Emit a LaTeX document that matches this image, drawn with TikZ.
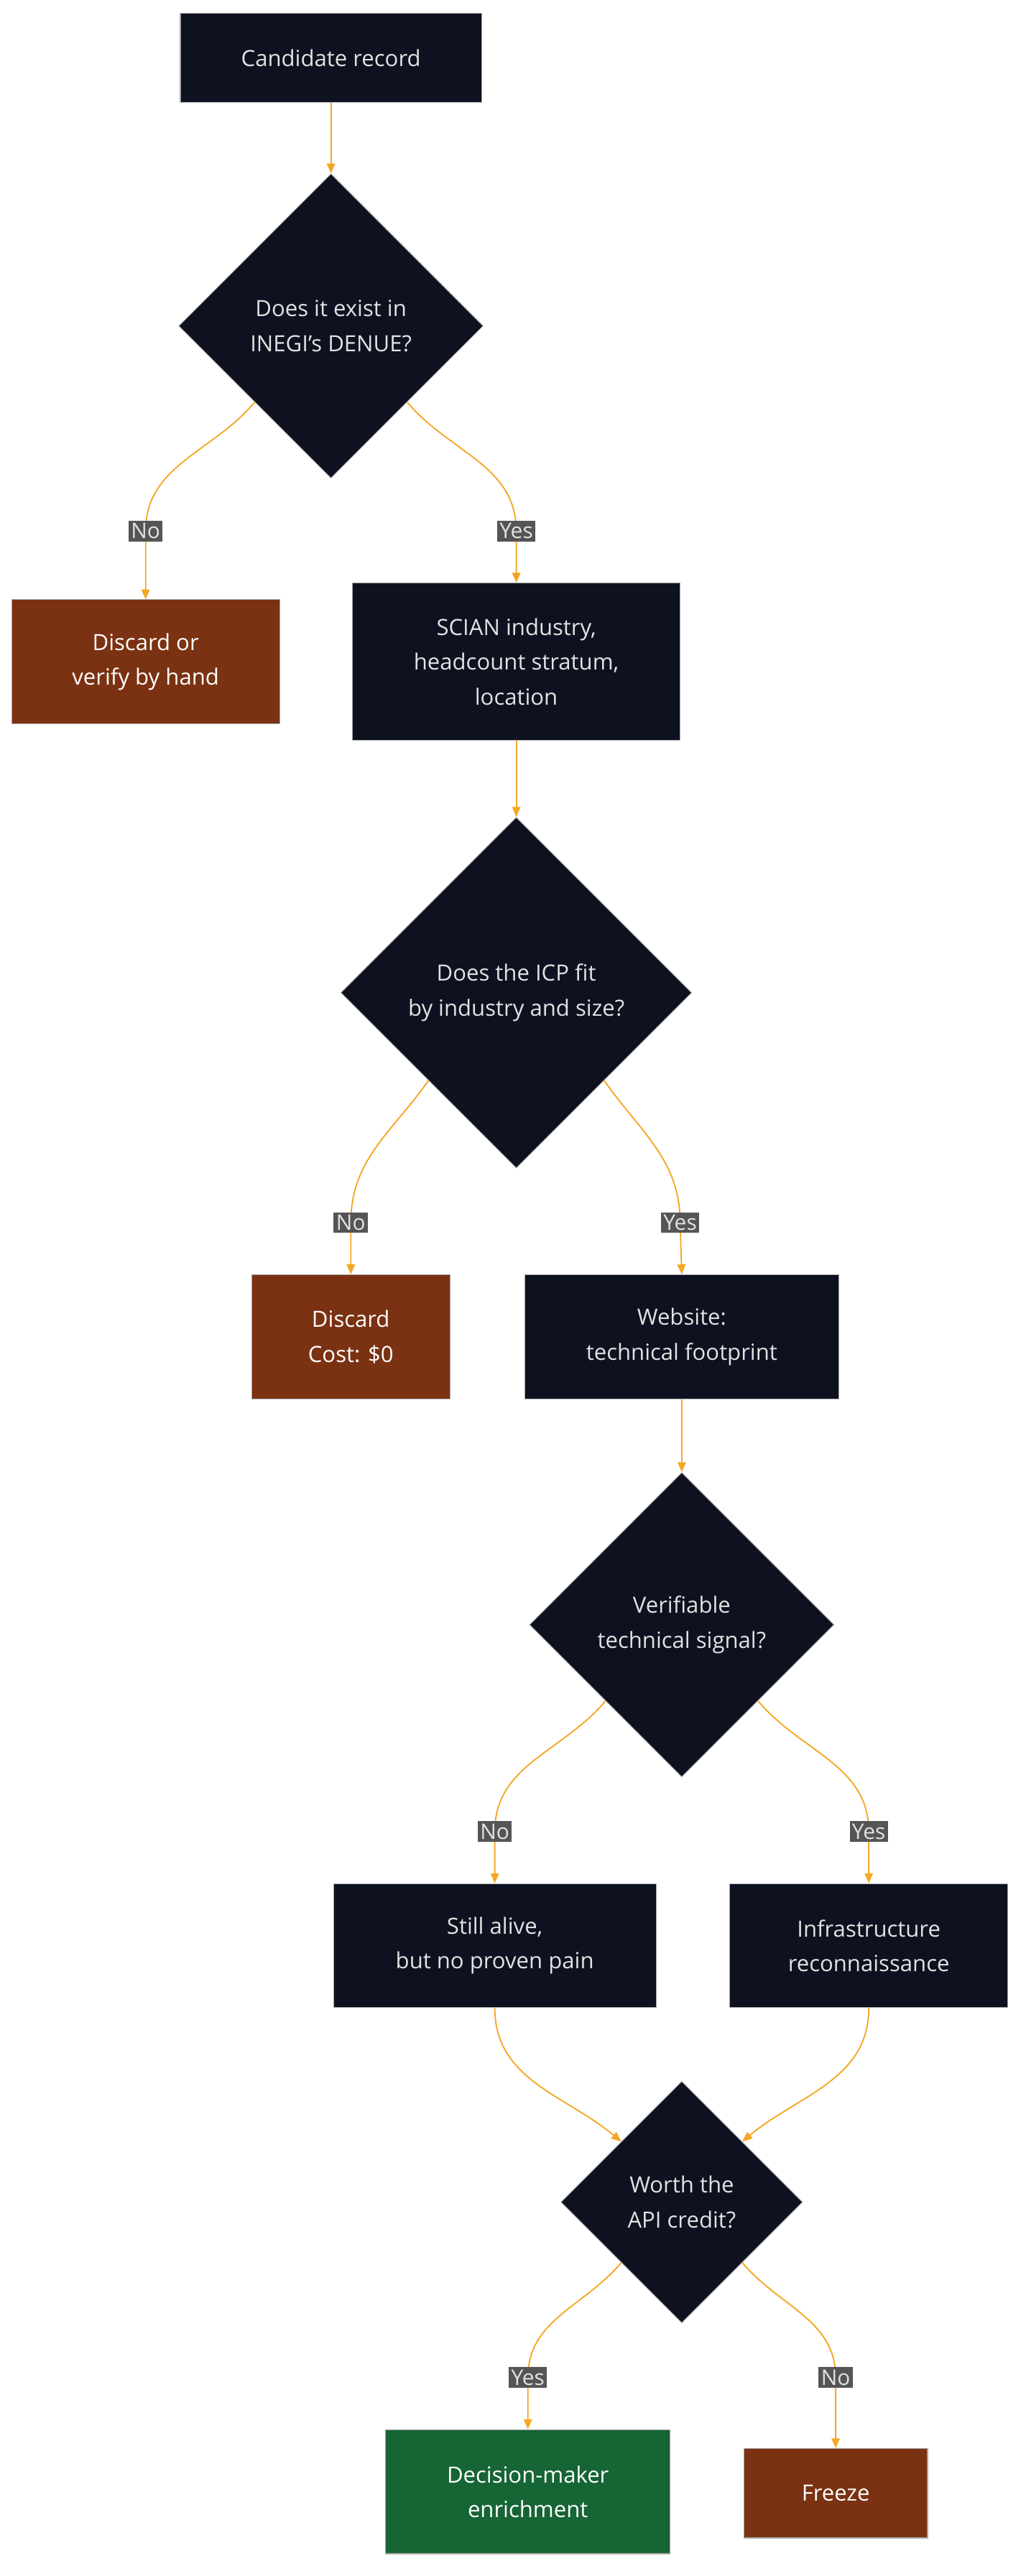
\documentclass[tikz,border=0pt]{standalone}
\usepackage{fontspec}
\setmainfont{Open Sans}
\usetikzlibrary{shapes.geometric,arrows.meta}
\definecolor{dk}{HTML}{0E111F}
\definecolor{br}{HTML}{7A3212}
\definecolor{gr}{HTML}{166534}
\definecolor{ed}{HTML}{F5A623}
\definecolor{tx}{HTML}{E2E2E2}
\definecolor{lb}{HTML}{555555}
\begin{document}
\begin{tikzpicture}[x=1pt,y=-1pt,
  font=\fontsize{13.5}{21}\selectfont,
  box/.style={draw=gray!70,line width=0.5pt,fill=dk,text=tx,align=center,inner sep=0,anchor=center},
  dia/.style={diamond,draw=gray!70,fill=dk,text=tx,align=center,inner sep=0},
  lab/.style={fill=lb,text=tx,inner sep=1.5pt,font=\fontsize{13}{15}\selectfont},
  ar/.style={draw=ed,line width=0.8pt,-{Triangle[length=6pt,width=5pt]}}]
\useasboundingbox (0,0) rectangle (620,1557);
\fill[white] (0,0) rectangle (620,1557);
\node[box,minimum width=182,minimum height=54] (c) at (200,35) {Candidate record};
\node[dia,minimum width=184,minimum height=184] (d1) at (200,197) {Does it exist in\\INEGI's DENUE?};
\node[box,fill=br,text=white,minimum width=162,minimum height=75] (n1) at (88,400) {Discard or\\verify by hand};
\node[box,minimum width=198,minimum height=95] (s) at (312,400) {SCIAN industry,\\headcount stratum,\\location};
\node[dia,minimum width=212,minimum height=212] (d2) at (312,600) {Does the ICP fit\\by industry and size?};
\node[box,fill=br,text=white,minimum width=120,minimum height=75] (n2) at (212,808) {Discard\\Cost: \$0};
\node[box,minimum width=190,minimum height=75] (w) at (412,808) {Website:\\technical footprint};
\node[dia,minimum width=184,minimum height=184] (d3) at (412,982) {Verifiable\\technical signal?};
\node[box,minimum width=195,minimum height=75] (sa) at (299,1176) {Still alive,\\but no proven pain};
\node[box,minimum width=168,minimum height=75] (inf) at (525,1176) {Infrastructure\\reconnaissance};
\node[dia,minimum width=146,minimum height=146] (d4) at (412,1331) {Worth the\\API credit?};
\node[box,fill=gr,text=white,minimum width=172,minimum height=75] (dm) at (319,1506) {Decision-maker\\enrichment};
\node[box,fill=br,text=white,minimum width=111,minimum height=54] (fr) at (505,1507) {Freeze};
\coordinate (l1) at (88,321); \coordinate (l2) at (312,321);
\coordinate (l3) at (212,739); \coordinate (l4) at (411,739);
\coordinate (l5) at (299,1107); \coordinate (l6) at (525,1107);
\coordinate (l7) at (319,1437); \coordinate (l8) at (505,1437);
\draw[ar] (c) -- (d1);
\draw[ar] (d1.225) to[out=-130,in=90] (l1) to[out=-90,in=90] (n1.north);
\draw[ar] (d1.315) to[out=-50,in=90] (l2) -- (s.north);
\draw[ar] (s) -- (d2);
\draw[ar] (d2.225) to[out=-125,in=90] (l3) -- (n2.north);
\draw[ar] (d2.315) to[out=-55,in=90] (l4) -- (w.north);
\draw[ar] (w) -- (d3);
\draw[ar] (d3.225) to[out=-130,in=90] (l5) -- (sa.north);
\draw[ar] (d3.315) to[out=-50,in=90] (l6) -- (inf.north);
\draw[ar] (sa.south) to[out=-90,in=140] (d4.135);
\draw[ar] (inf.south) to[out=-90,in=40] (d4.45);
\draw[ar] (d4.225) to[out=-130,in=90] (l7) -- (dm.north);
\draw[ar] (d4.315) to[out=-50,in=90] (l8) -- (fr.north);
\node[lab] (t1) at (l1) {No}; \node[lab] (t2) at (l2) {Yes};
\node[lab] (t3) at (l3) {No}; \node[lab] (t4) at (l4) {Yes};
\node[lab] (t5) at (l5) {No}; \node[lab] (t6) at (l6) {Yes};
\node[lab] (t7) at (l7) {Yes}; \node[lab] (t8) at (l8) {No};
\end{tikzpicture}
\end{document}
